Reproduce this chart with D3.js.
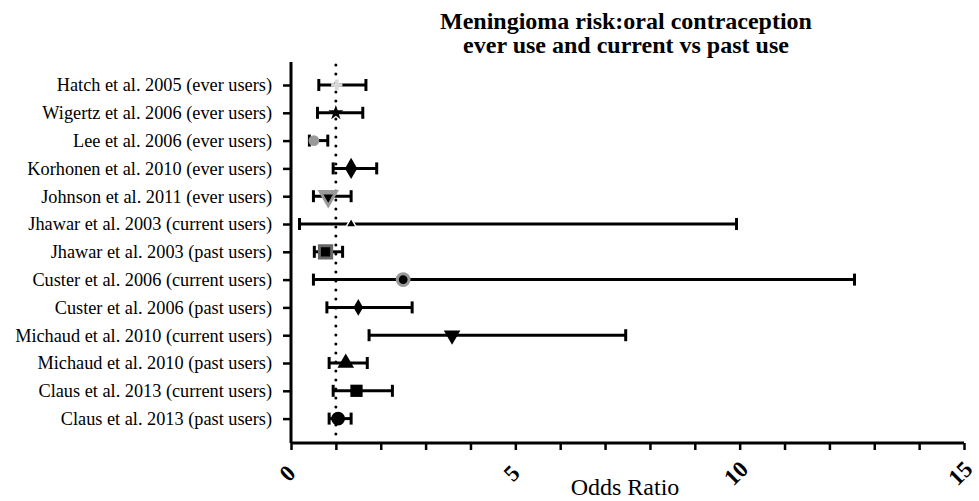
<!DOCTYPE html>
<html>
<head>
<meta charset="utf-8">
<script src="https://cdn.jsdelivr.net/npm/d3@7"></script>
<style>
  body { margin: 0; background: #fff; }
  svg text { font-family: "Liberation Serif", "Times New Roman", serif; }
</style>
</head>
<body>
<div id="chart"></div>
<script>
// studies, top to bottom
var studies = [
  "Hatch et al. 2005 (ever users)",
  "Wigertz et al. 2006 (ever users)",
  "Lee et al. 2006 (ever users)",
  "Korhonen et al. 2010 (ever users)",
  "Johnson et al. 2011 (ever users)",
  "Jhawar et al. 2003 (current users)",
  "Jhawar et al. 2003 (past users)",
  "Custer et al. 2006 (current users)",
  "Custer et al. 2006 (past users)",
  "Michaud et al. 2010 (current users)",
  "Michaud et al. 2010 (past users)",
  "Claus et al. 2013 (current users)",
  "Claus et al. 2013 (past users)"
];
var oddsRatio = [1.02, 1.0, 0.51, 1.34, 0.83, 1.34, 0.77, 2.5, 1.5, 3.59, 1.22, 1.46, 1.05];
var lowerCI   = [0.62, 0.59, 0.41, 0.94, 0.50, 0.19, 0.52, 0.50, 0.80, 1.74, 0.85, 0.94, 0.85];
var upperCI   = [1.67, 1.60, 0.82, 1.91, 1.34, 9.93, 1.15, 12.56, 2.70, 7.46, 1.70, 2.26, 1.34];
var markers   = ["plus", "star", "hex", "diamond", "tridown", "triup-small", "square-gray",
                 "circle-gray", "diamond-small", "tridown", "triup", "square", "circle"];
var xTicks = [0, 5, 10, 15];

var svgWidth = 979, svgHeight = 501;
var margin = { top: 70, right: 15, bottom: 58, left: 291 };
var chartWidth = 964 - margin.left;
var chartHeight = svgHeight - margin.top - margin.bottom;

var svg = d3.select("#chart").append("svg")
  .attr("width", svgWidth)
  .attr("height", svgHeight);

var g = svg.append("g")
  .attr("transform", `translate(${margin.left}, ${margin.top})`);

var x = d3.scaleLinear().domain([0, 15]).range([0, chartWidth]);
var y = d3.scalePoint().domain(studies).range([15, 15 + 27.8 * 12]);

// title
svg.append("text")
  .attr("x", 626).attr("y", 29)
  .attr("text-anchor", "middle")
  .attr("font-size", 24).attr("font-weight", "bold")
  .text("Meningioma risk:oral contraception");
svg.append("text")
  .attr("x", 626).attr("y", 53)
  .attr("text-anchor", "middle")
  .attr("font-size", 24).attr("font-weight", "bold")
  .text("ever use and current vs past use");

// reference line at OR = 1
g.append("line")
  .attr("x1", x(1)).attr("x2", x(1))
  .attr("y1", -5).attr("y2", chartHeight - 2)
  .attr("stroke", "#000")
  .attr("stroke-width", 3)
  .attr("stroke-linecap", "round")
  .attr("stroke-dasharray", "0 9");

// y axis
var yAxis = g.append("g")
  .call(d3.axisLeft(y).tickSize(8).tickPadding(11));
yAxis.select(".domain").attr("d", `M0,-8V${chartHeight}`).attr("stroke-width", 3);
yAxis.selectAll(".tick line").attr("stroke-width", 2.5);
yAxis.selectAll(".tick text")
  .attr("font-size", 18.3)
  .attr("font-family", "Liberation Serif, serif")
  .attr("fill", "#000");

// x axis
var xAxis = g.append("g")
  .attr("transform", `translate(0, ${chartHeight})`)
  .call(d3.axisBottom(x).ticks(15).tickSize(7).tickFormat(""));
xAxis.select(".domain").attr("d", `M0,0H${chartWidth}`).attr("stroke-width", 3);
xAxis.selectAll(".tick line").attr("stroke-width", 2.5);

g.append("g")
  .selectAll("text")
  .data(xTicks)
  .enter()
  .append("text")
  .attr("transform", d => `translate(${x(d) - 2}, ${chartHeight + 32}) rotate(-45)`)
  .attr("text-anchor", "middle")
  .attr("dominant-baseline", "middle")
  .attr("font-size", 23).attr("font-weight", "bold")
  .text(d => d);

svg.append("text")
  .attr("x", 625).attr("y", 495)
  .attr("text-anchor", "middle")
  .attr("font-size", 24)
  .text("Odds Ratio");

// error bars
var rows = studies.map((s, i) => ({ s: s, or: oddsRatio[i], lo: lowerCI[i], hi: upperCI[i], m: markers[i] }));

var bars = g.append("g").selectAll("g").data(rows).enter().append("g");
bars.append("line")
  .attr("x1", d => x(d.lo)).attr("x2", d => x(d.hi))
  .attr("y1", d => y(d.s)).attr("y2", d => y(d.s))
  .attr("stroke", "#000").attr("stroke-width", 3);
bars.append("line")
  .attr("x1", d => x(d.lo)).attr("x2", d => x(d.lo))
  .attr("y1", d => y(d.s) - 6).attr("y2", d => y(d.s) + 6)
  .attr("stroke", "#000").attr("stroke-width", 3);
bars.append("line")
  .attr("x1", d => x(d.hi)).attr("x2", d => x(d.hi))
  .attr("y1", d => y(d.s) - 6).attr("y2", d => y(d.s) + 6)
  .attr("stroke", "#000").attr("stroke-width", 3);

// markers
var sym = {
  "plus":          { t: d3.symbolCross,    s: 70,  fill: "#d9d9d9", stroke: "none" },
  "star":          { t: d3.symbolStar,     s: 70,  fill: "#000",    stroke: "none" },
  "hex":           { t: d3.symbolCircle,   s: 90,  fill: "#999",    stroke: "none" },
  "diamond":       { t: d3.symbolDiamond,  s: 130, fill: "#000",    stroke: "none" },
  "tridown":       { t: d3.symbolTriangle, s: 120, fill: "#000",    stroke: "none", rot: 180 },
  "triup-small":   { t: d3.symbolTriangle, s: 45,  fill: "#000",    stroke: "#fff", sw: 1.5 },
  "square-gray":   { t: d3.symbolSquare,   s: 150, fill: "#000",    stroke: "#666", sw: 3 },
  "circle-gray":   { t: d3.symbolCircle,   s: 110, fill: "#000",    stroke: "#999", sw: 3 },
  "diamond-small": { t: d3.symbolDiamond,  s: 80,  fill: "#000",    stroke: "none" },
  "triup":         { t: d3.symbolTriangle, s: 120, fill: "#000",    stroke: "none" },
  "square":        { t: d3.symbolSquare,   s: 150, fill: "#000",    stroke: "none" },
  "circle":        { t: d3.symbolCircle,   s: 150, fill: "#000",    stroke: "none" }
};

g.append("g").selectAll("path").data(rows).enter().append("path")
  .attr("transform", d => `translate(${x(d.or)}, ${y(d.s)}) rotate(${sym[d.m].rot || 0})`)
  .attr("d", d => d3.symbol().type(sym[d.m].t).size(sym[d.m].s)())
  .attr("fill", d => sym[d.m].fill)
  .attr("stroke", d => sym[d.m].stroke)
  .attr("stroke-width", d => sym[d.m].sw || 0);

// Johnson: gray triangle with a smaller black one inside
g.append("path")
  .attr("transform", `translate(${x(oddsRatio[4])}, ${y(studies[4])}) rotate(180)`)
  .attr("d", d3.symbol().type(d3.symbolTriangle).size(200)())
  .attr("fill", "#999");
g.append("path")
  .attr("transform", `translate(${x(oddsRatio[4])}, ${y(studies[4]) + 1}) rotate(180)`)
  .attr("d", d3.symbol().type(d3.symbolTriangle).size(40)())
  .attr("fill", "#000");
</script>
</body>
</html>
